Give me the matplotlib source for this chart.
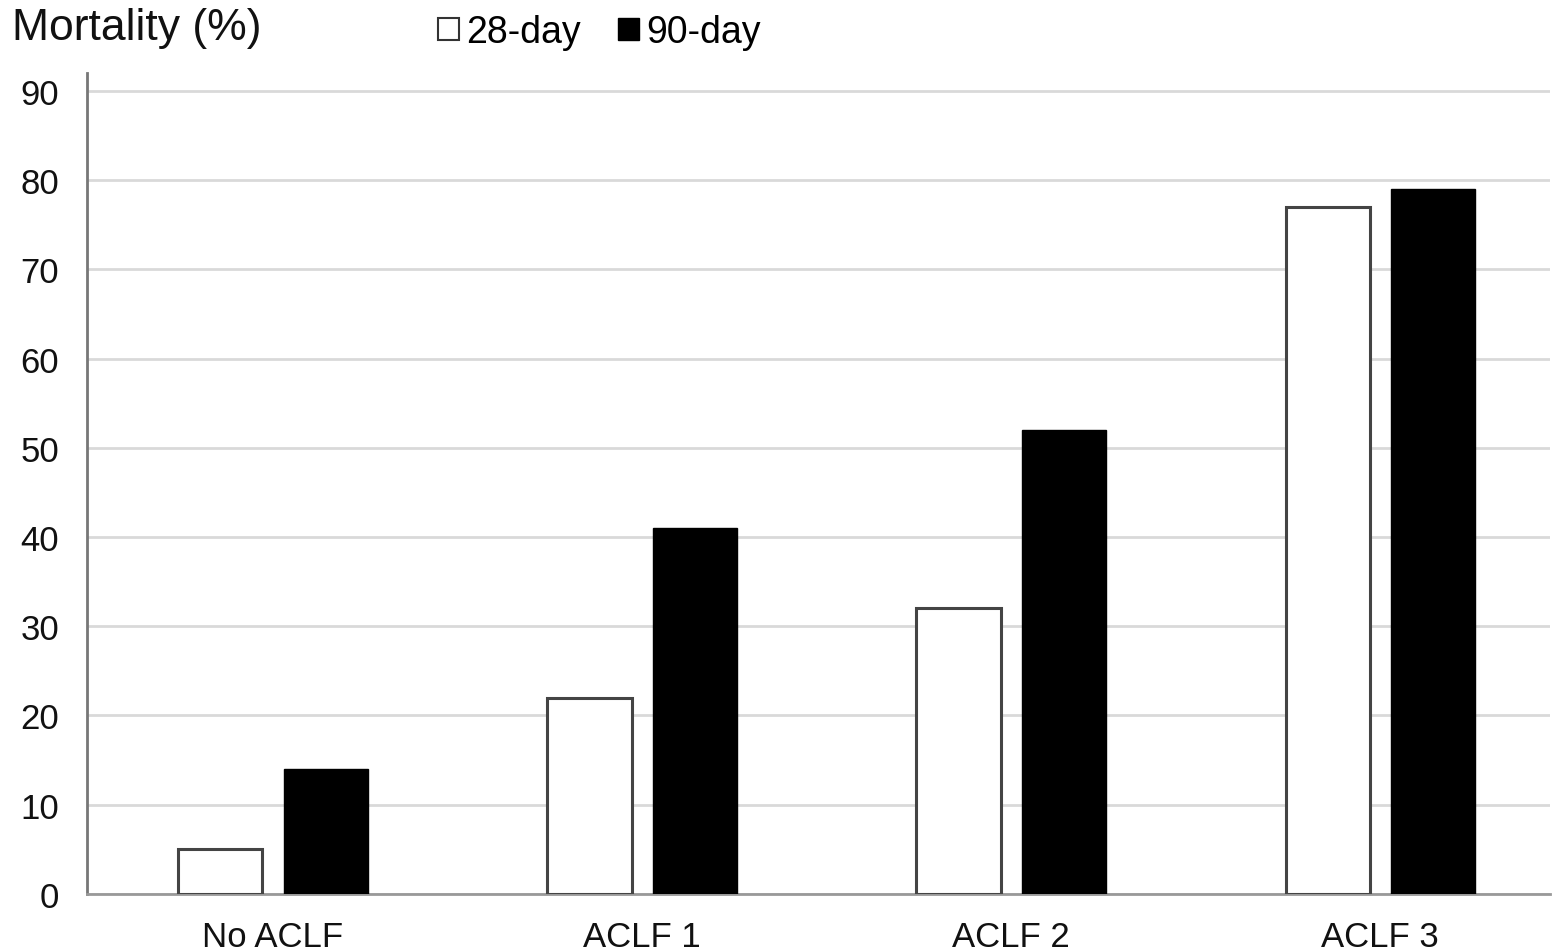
import matplotlib.pyplot as plt
import matplotlib.patches as mpatches
import numpy as np

plt.rcParams['font.family'] = ['Liberation Sans', 'DejaVu Sans']

# mortality by ACLF grade
groups = ['No ACLF', 'ACLF 1', 'ACLF 2', 'ACLF 3']
day28 = [5, 22, 32, 77]
day90 = [14, 41, 52, 79]
yticks = [0, 10, 20, 30, 40, 50, 60, 70, 80, 90]

fig = plt.figure(figsize=(15.56, 9.53), dpi=100)
ax = fig.add_axes([0.0559, 0.0609, 0.9402, 0.8615])

x = np.arange(len(groups))
w = 0.228
off = 0.1425
ax.bar(x - off, day28, w, color='white', edgecolor='#444444', linewidth=2.2, zorder=3)
ax.bar(x + off, day90, w, color='black', edgecolor='black', linewidth=1, zorder=3)

ax.set_xlim(-0.504, 3.46)
ax.set_ylim(0, 92)
ax.set_xticks(x)
ax.set_xticklabels(groups)
ax.set_yticks(yticks)
ax.tick_params(axis='both', length=0, labelsize=25, colors='#111111')
ax.tick_params(axis='y', pad=20)
ax.tick_params(axis='x', pad=19)

ax.yaxis.grid(True, color='#d9d9d9', linewidth=2, zorder=0)
ax.set_axisbelow(True)
for s in ['top', 'right']:
    ax.spines[s].set_visible(False)
ax.spines['left'].set_color('#777777')
ax.spines['left'].set_linewidth(2)
ax.spines['bottom'].set_color('#999999')
ax.spines['bottom'].set_linewidth(2)

fig.text(0.008, 0.97, 'Mortality (%)', fontsize=32, va='center', ha='left', color='#111111')

handles = [mpatches.Patch(facecolor='white', edgecolor='#333333', linewidth=1.5, label='28-day'),
           mpatches.Patch(facecolor='black', edgecolor='black', label='90-day')]
fig.legend(handles=handles, loc='center left', bbox_to_anchor=(0.272, 0.965), ncol=2,
           frameon=False, fontsize=27, handlelength=0.55, handleheight=0.55,
           handletextpad=0.2, columnspacing=1.0, borderaxespad=0)

fig.savefig('out.png', dpi=100, facecolor='white')
